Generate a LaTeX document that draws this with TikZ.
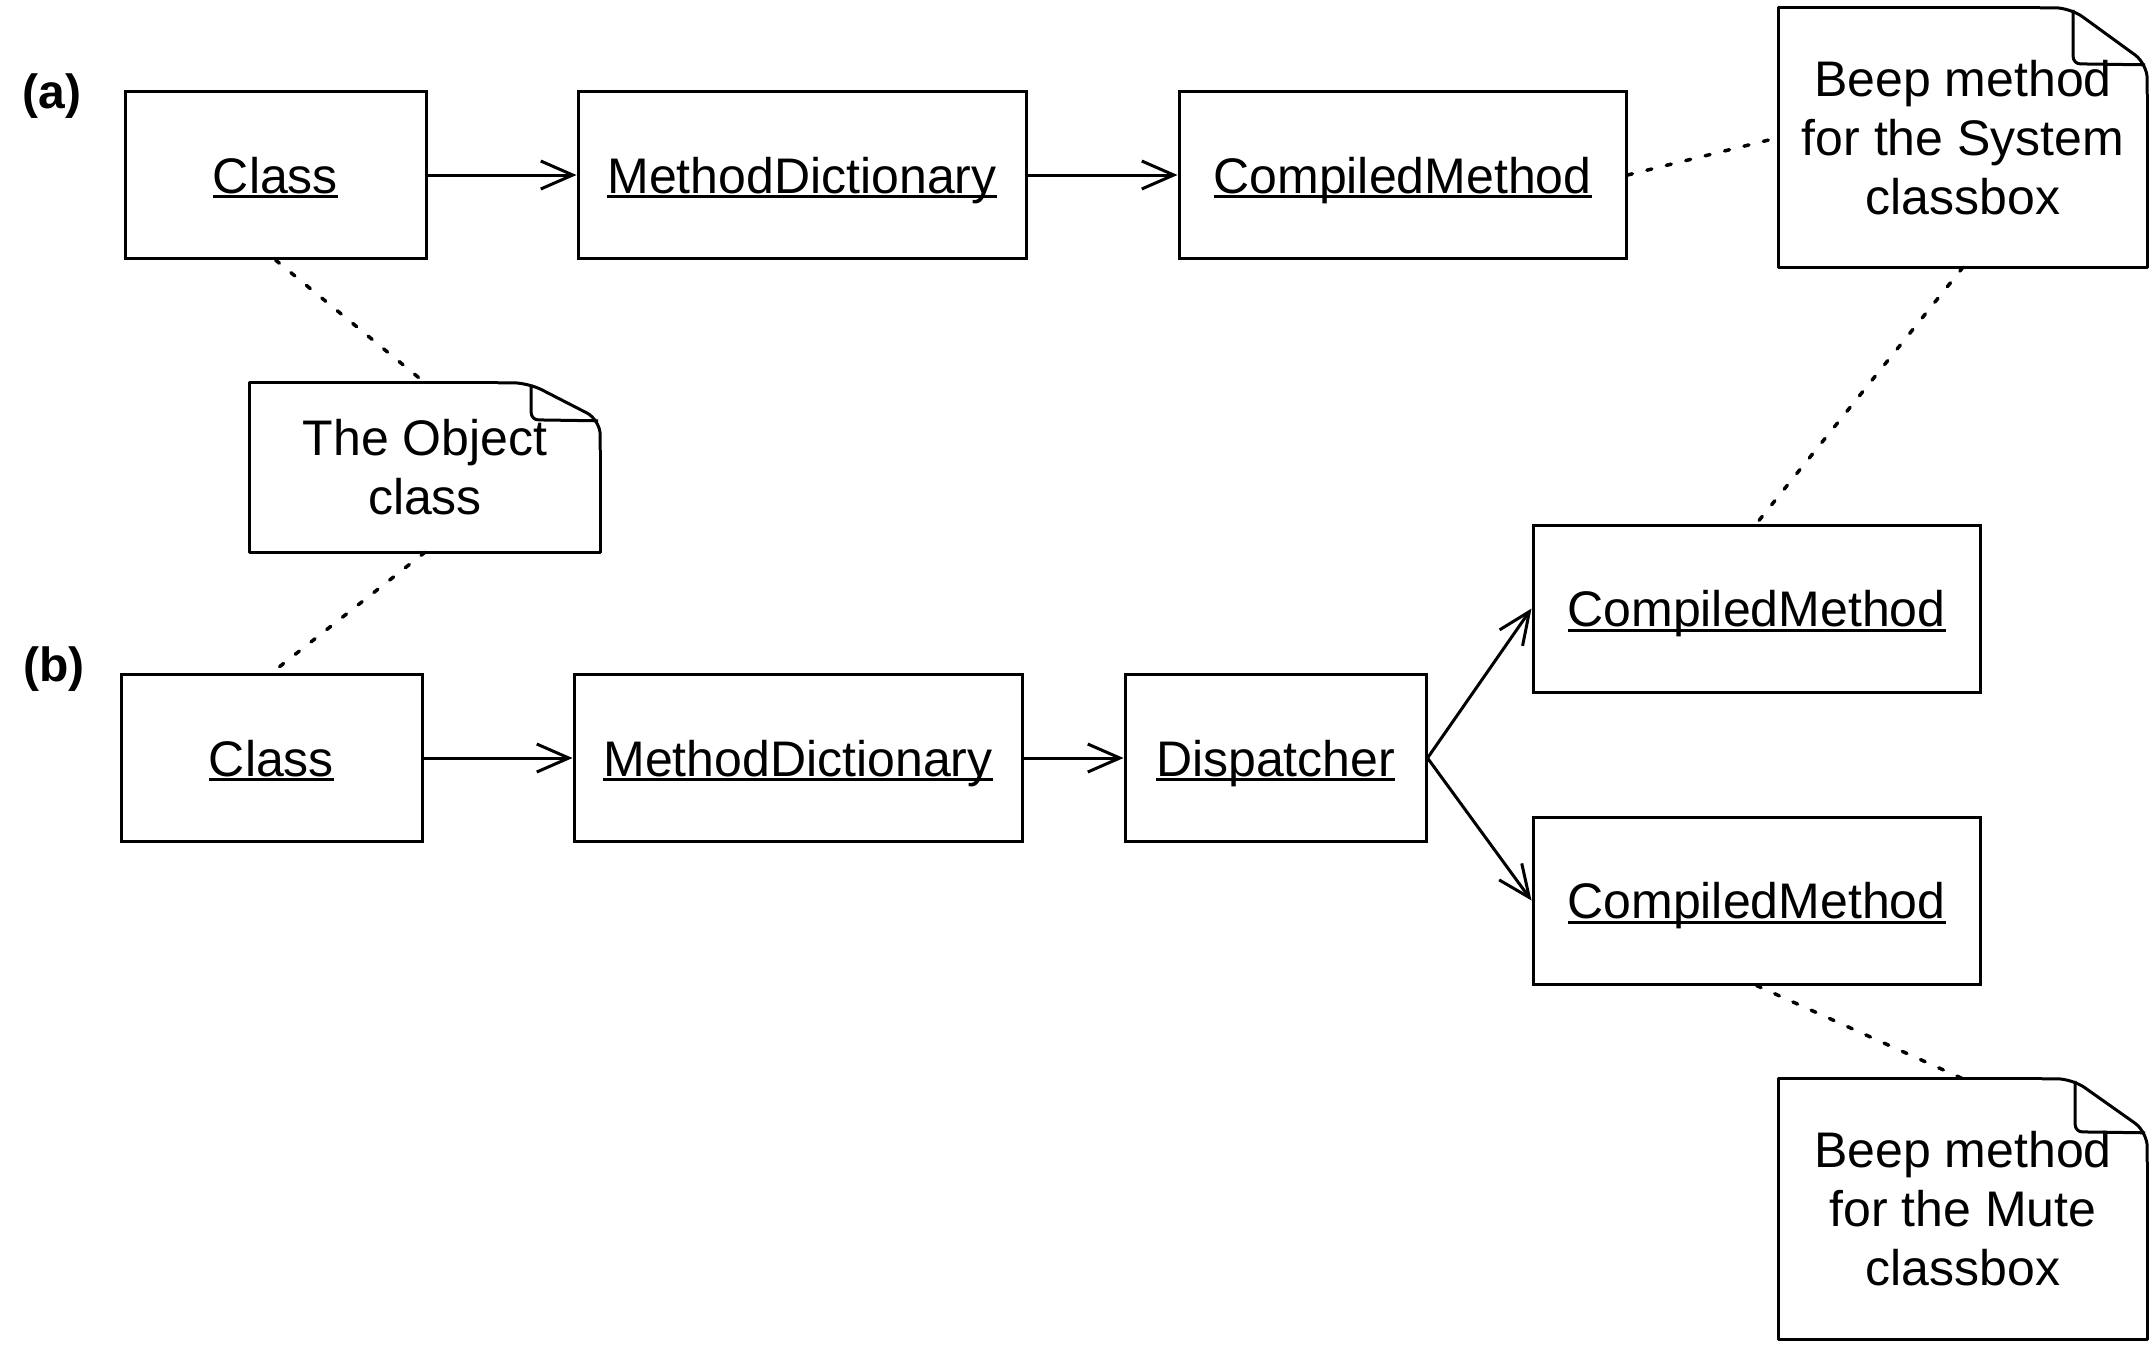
\documentclass[tikz,border=0pt]{standalone}
\usepackage{fontspec}
\setmainfont{Liberation Sans}
\usetikzlibrary{arrows.meta,calc}
\newcommand\myul[1]{\setbox0=\hbox{#1}\rlap{\smash{\rule[-5pt]{\wd0}{3pt}}}\box0}
\newcommand\drawnote[3]{%
  \draw[noteline] ($(#1.north east)+(-#2-30,0)$) -- (#1.north west) -- (#1.south west) -- (#1.south east) -- ($(#1.north east)+(0,#3+30)$);
  \draw[noteline,rounded corners=15pt] ($(#1.north east)+(-#2-30,0)$) -- ($(#1.north east)+(-#2,0)$) -- ($(#1.north east)+(0,#3)$) -- ($(#1.north east)+(0,#3+30)$);
  \draw[noteline,rounded corners=7pt] ($(#1.north east)+(-#2+3,2)$) -- ($(#1.north east)+(-#2+3,#3)$) -- ($(#1.north east)+(-2,#3+1)$);
}
\tikzset{
  txt/.style={font=\fontsize{50}{59}\selectfont},
  box/.style={txt, draw, line width=3pt, inner sep=0pt, minimum height=167pt, text height=36pt, text depth=0pt},
  notebox/.style={txt, inner sep=0pt, align=center},
  noteline/.style={line width=3pt, line join=round},
  arr/.style={line width=3pt, -{Straight Barb[length=32pt,width=28pt]}},
  dots/.style={line width=3.5pt, line cap=round, dash pattern=on 5pt off 15pt},
  lbl/.style={font=\fontsize{48}{58}\selectfont\bfseries, inner sep=0pt}
}
\begin{document}
\begin{tikzpicture}[x=1pt,y=-1pt]
\useasboundingbox (0,0) rectangle (2154,1345);
% labels
\node[lbl] (la) at (52,96) {(a)};
\node[lbl] (lb) at (54,669) {(b)};
% row (a)
\node[box, minimum width=301pt] (a1) at (275.5,175) {\myul{Class}};
\node[box, minimum width=448pt] (a2) at (802,175) {\myul{MethodDictionary}};
\node[box, minimum width=447pt] (a3) at (1402.5,175) {\myul{CompiledMethod}};
% row (b)
\node[box, minimum width=301pt] (b1) at (271.5,758) {\myul{Class}};
\node[box, minimum width=448pt] (b2) at (798,758) {\myul{MethodDictionary}};
\node[box, minimum width=301pt] (b3) at (1275.5,758) {\myul{Dispatcher}};
\node[box, minimum width=447pt] (b4) at (1756.5,608.5) {\myul{CompiledMethod}};
\node[box, minimum width=447pt] (b5) at (1756.5,900.5) {\myul{CompiledMethod}};
% notes
\node[notebox, minimum width=350pt, minimum height=169pt] (nobj) at (425,467.5) {The Object\\class};
\node[notebox, minimum width=368pt, minimum height=259pt] (nsys) at (1963,137.5) {Beep method\\for the System\\classbox};
\node[notebox, minimum width=368pt, minimum height=260pt] (nmute) at (1963,1209) {Beep method\\for the Mute\\classbox};
\drawnote{nobj}{72}{37}
\drawnote{nsys}{77}{56}
\drawnote{nmute}{75}{53}
% arrows
\draw[arr] (a1.east) -- (a2.west);
\draw[arr] (a2.east) -- (a3.west);
\draw[arr] (b1.east) -- (b2.west);
\draw[arr] (b2.east) -- (b3.west);
\draw[arr] (b3.east) -- (b4.west);
\draw[arr] (b3.east) -- (b5.west);
% dotted connectors
\draw[dots] (a1.south) -- (nobj.north);
\draw[dots] (nobj.south) -- (b1.north);
\draw[dots] (a3.east) -- (nsys.west);
\draw[dots] (nsys.south) -- (b4.north);
\draw[dots] (b5.south) -- (nmute.north);
\end{tikzpicture}
\end{document}
